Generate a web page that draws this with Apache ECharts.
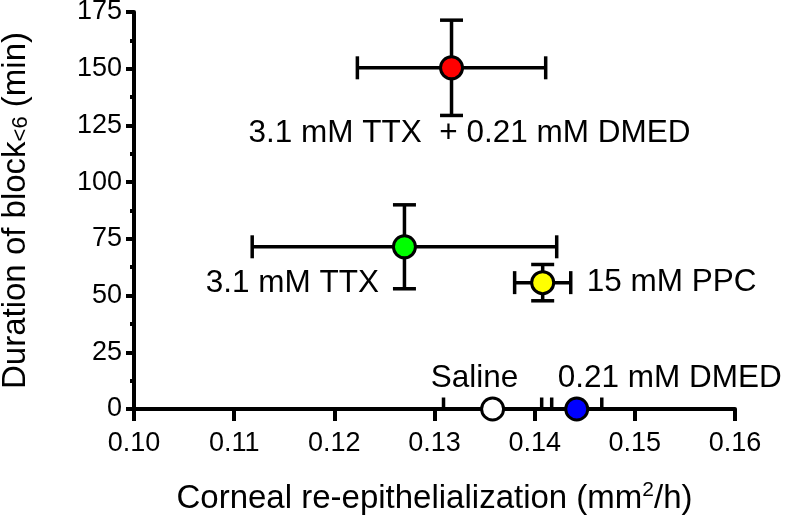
<!DOCTYPE html>
<html>
<head>
<meta charset="utf-8">
<script src="https://cdn.jsdelivr.net/npm/echarts@6/dist/echarts.min.js"></script>
<style>
html, body { margin: 0; padding: 0; background: #fff; }
#chart { width: 789px; height: 517px; }
</style>
</head>
<body>
<div id="chart"></div>
<script>
// groups and their means / SEM
const groups = ['Saline', '0.21 mM DMED', '3.1 mM TTX', '15 mM PPC', '3.1 mM TTX  + 0.21 mM DMED']
const reEpi = [0.1358, 0.1442, 0.1270, 0.1408, 0.1317]
const reEpiErr = [0.0049, 0.0025, 0.0152, 0.0028, 0.0094]
const blockDur = [0, 0, 71.5, 55.7, 150.4]
const blockDurErr = [0, 0, 18.5, 8, 21]
const fillColors = ['#ffffff', '#0000ff', '#00ff00', '#ffff00', '#ff0000']

// where each group's label sits relative to its marker
const labelOffsets = [[-18, -31], [93, -31], [-112, 37], [129, 0], [18, 66]]

const FONT = '"Liberation Sans", Arial, sans-serif'

const chart = echarts.init(document.getElementById('chart'))

const pointData = groups.map((g, i) => ({
  value: [reEpi[i], blockDur[i]],
  itemStyle: { color: fillColors[i] },
  label: { offset: labelOffsets[i] }
}))

const errData = groups.map((g, i) => [reEpi[i], blockDur[i], reEpiErr[i], blockDurErr[i]])

chart.setOption({
  animation: false,
  grid: { left: 134, right: 54, top: 12, bottom: 108, outerBoundsMode: 'none' },
  xAxis: {
    type: 'value',
    min: 0.10,
    max: 0.16,
    interval: 0.01,
    name: 'Corneal re-epithelialization (mm{sup|2}/h)',
    nameLocation: 'middle',
    nameGap: 71,
    nameTextStyle: {
      fontFamily: FONT, fontSize: 33, color: '#000', lineHeight: 38,
      rich: {
        sup: { fontFamily: FONT, fontSize: 21, color: '#000', lineHeight: 22, verticalAlign: 'top' }
      }
    },
    axisLine: { lineStyle: { color: '#000', width: 4 } },
    axisTick: { length: 12, lineStyle: { color: '#000', width: 4 } },
    axisLabel: {
      fontFamily: FONT, fontSize: 27, color: '#000', margin: 21,
      formatter: (v) => v.toFixed(2)
    },
    splitLine: { show: false }
  },
  yAxis: {
    type: 'value',
    min: 0,
    max: 175,
    interval: 25,
    name: 'Duration of block{sub|<6} (min)',
    nameLocation: 'middle',
    nameGap: 102,
    nameTextStyle: {
      fontFamily: FONT, fontSize: 33, color: '#000',
      rich: {
        sub: { fontFamily: FONT, fontSize: 22, color: '#000', verticalAlign: 'bottom', padding: [9, 0, 0, 0] }
      }
    },
    axisLine: { lineStyle: { color: '#000', width: 4 } },
    axisTick: { length: 8, lineStyle: { color: '#000', width: 4 } },
    minorTick: { show: true, splitNumber: 2, length: 4, lineStyle: { color: '#000', width: 4 } },
    axisLabel: { fontFamily: FONT, fontSize: 27, color: '#000', margin: 12 },
    splitLine: { show: false }
  },
  series: [
    {
      type: 'custom',
      clip: true,
      z: 3,
      data: errData,
      encode: { x: 0, y: 1 },
      renderItem: (params, api) => {
        const x = api.value(0)
        const y = api.value(1)
        const ex = api.value(2)
        const ey = api.value(3)
        const l = api.coord([x - ex, y])
        const r = api.coord([x + ex, y])
        const cap = 11.5
        const style = { stroke: '#000', lineWidth: 3.5 }
        const children = [
          { type: 'line', shape: { x1: l[0], y1: l[1], x2: r[0], y2: r[1] }, style },
          { type: 'line', shape: { x1: l[0], y1: l[1] - cap, x2: l[0], y2: l[1] + cap }, style },
          { type: 'line', shape: { x1: r[0], y1: r[1] - cap, x2: r[0], y2: r[1] + cap }, style }
        ]
        if (ey > 0) {
          const t = api.coord([x, y + ey])
          const b = api.coord([x, y - ey])
          children.push(
            { type: 'line', shape: { x1: t[0], y1: t[1], x2: b[0], y2: b[1] }, style },
            { type: 'line', shape: { x1: t[0] - cap, y1: t[1], x2: t[0] + cap, y2: t[1] }, style },
            { type: 'line', shape: { x1: b[0] - cap, y1: b[1], x2: b[0] + cap, y2: b[1] }, style }
          )
        }
        return { type: 'group', children }
      }
    },
    {
      type: 'scatter',
      z: 4,
      clip: false,
      symbol: 'circle',
      symbolSize: 22,
      itemStyle: { borderColor: '#000', borderWidth: 3, opacity: 1 },
      label: {
        show: true,
        position: 'inside',
        fontFamily: FONT,
        fontSize: 31.5,
        color: '#000',
        formatter: (p) => groups[p.dataIndex]
      },
      emphasis: { disabled: true },
      data: pointData
    }
  ]
})
</script>
</body>
</html>
